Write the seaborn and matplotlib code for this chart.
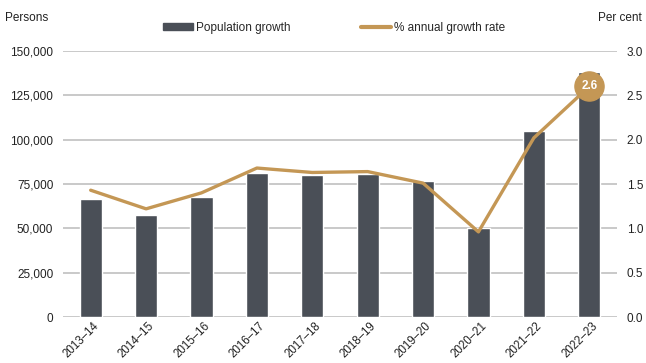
import matplotlib
matplotlib.use("Agg")
import matplotlib.pyplot as plt
import seaborn as sns
import pandas as pd
import numpy as np
from matplotlib.patches import Patch
from matplotlib.lines import Line2D

# Annual population change and growth rate
years = ["2013–14", "2014–15", "2015–16", "2016–17", "2017–18",
         "2018–19", "2019–20", "2020–21", "2021–22", "2022–23"]
pop_growth = [66700, 57500, 67400, 81000, 79900, 80600, 76700, 50000, 105100, 138000]
growth_rate = [1.43, 1.22, 1.40, 1.68, 1.63, 1.64, 1.51, 0.96, 2.02, 2.6]

left_ticks = [0, 25000, 50000, 75000, 100000, 125000, 150000]
right_ticks = [0.0, 0.5, 1.0, 1.5, 2.0, 2.5, 3.0]

BAR = "#4a4f57"
LINE = "#c49755"
GRID = "#c0c0c0"
TXT = "#222222"

sns.set_theme(style="white")
plt.rcParams["font.family"] = ["Liberation Sans", "DejaVu Sans"]

df = pd.DataFrame({"year": years, "pop": pop_growth, "rate": growth_rate})

fig = plt.figure(figsize=(6.46, 3.63), dpi=100)
ax = fig.add_axes([0.0975, 0.1267, 0.8575, 0.7328])

sns.barplot(data=df, x="year", y="pop", color=BAR, width=0.4,
            saturation=1, ax=ax, zorder=3)
ax.set_ylim(0, 150000)
ax.set_xlim(-0.5, 9.5)
ax.set_yticks(left_ticks)
ax.set_yticklabels([f"{v:,}" for v in left_ticks], fontsize=8.5, color=TXT)
ax.yaxis.grid(True, color=GRID, linewidth=1.2, zorder=0)
ax.set_axisbelow(True)
for s in ax.spines.values():
    s.set_visible(False)
ax.tick_params(axis="y", length=0, pad=7)
ax.tick_params(axis="x", length=0, pad=2)
ax.set_xticks(range(len(years)))
ax.set_xticklabels(years, rotation=45, ha="right", va="top",
                   rotation_mode="anchor", fontsize=8.3, color=TXT)
for lbl in ax.get_xticklabels():
    lbl.set_transform(lbl.get_transform() +
                      matplotlib.transforms.ScaledTranslation(0.02, 0, fig.dpi_scale_trans))
ax.set_xlabel("")
ax.set_ylabel("")

ax2 = ax.twinx()
x_pos = np.arange(len(years))
sns.lineplot(x=x_pos, y=growth_rate, color=LINE, linewidth=2.4, ax=ax2,
             zorder=4)
ax2.set_ylim(0, 3.0)
ax2.set_xlim(-0.5, 9.5)
ax2.set_yticks(right_ticks)
ax2.set_yticklabels([f"{v:.1f}" for v in right_ticks], fontsize=8.5, color=TXT)
ax2.tick_params(axis="y", length=0, pad=7)
for s in ax2.spines.values():
    s.set_visible(False)
ax2.set_ylabel("")

# Highlight latest growth rate
ax2.scatter([x_pos[-1]], [growth_rate[-1]], s=440, color=LINE, zorder=5,
            clip_on=False)
ax2.text(x_pos[-1], growth_rate[-1], f"{growth_rate[-1]:.1f}", color="white",
         fontsize=8.5, fontweight="bold", ha="center", va="center", zorder=6)

# Axis titles
fig.text(5 / 646, 1 - 18 / 363, "Persons", fontsize=8.5, color=TXT,
         ha="left", va="center")
fig.text(642 / 646, 1 - 18 / 363, "Per cent", fontsize=8.5, color=TXT,
         ha="right", va="center")

# Legend
handles = [Patch(color=BAR), Line2D([0], [0], color=LINE, linewidth=3)]
fig.legend(handles, ["Population growth", "% annual growth rate"],
           loc="center", bbox_to_anchor=(0.517, 1 - 28 / 363), ncol=2,
           frameon=False, fontsize=8.5, handlelength=2.5, handleheight=0.55,
           columnspacing=6.0, handletextpad=0.25)

fig.savefig("out.png", dpi=100)
